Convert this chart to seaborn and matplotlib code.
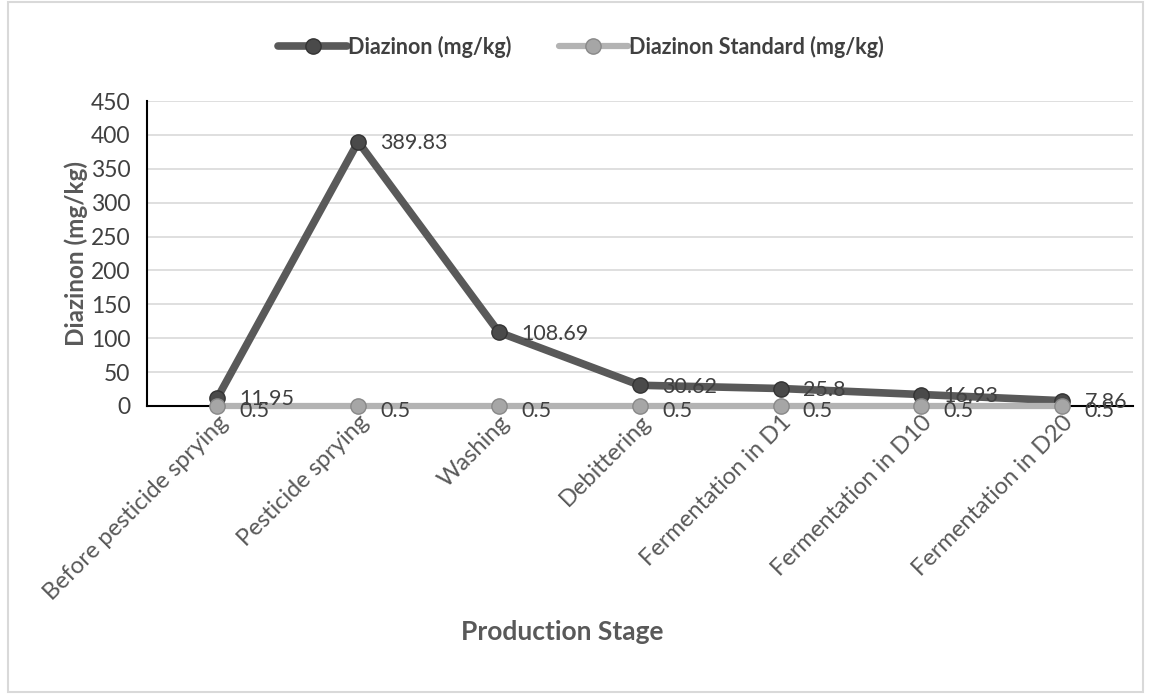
import matplotlib
matplotlib.use("Agg")
import matplotlib.pyplot as plt
import seaborn as sns
import pandas as pd
from matplotlib.patches import Rectangle

stages = ["Before pesticide sprying", "Pesticide sprying", "Washing", "Debittering",
          "Fermentation in D1", "Fermentation in D10", "Fermentation in D20"]
diazinon = [11.95, 389.83, 108.69, 30.62, 25.8, 16.93, 7.86]
standard = [0.5, 0.5, 0.5, 0.5, 0.5, 0.5, 0.5]
diaz_labels = ["11.95", "389.83", "108.69", "30.62", "25.8", "16.93", "7.86"]
std_labels = ["0.5"] * 7
series_names = ["Diazinon (mg/kg)", "Diazinon Standard (mg/kg)"]
yticks = [0, 50, 100, 150, 200, 250, 300, 350, 400, 450]

sns.set_theme(style="white")
plt.rcParams['font.family'] = ['Lato', 'DejaVu Sans']

df = pd.DataFrame({
    "Stage": stages * 2,
    "Value": diazinon + standard,
    "Series": [series_names[0]] * 7 + [series_names[1]] * 7,
})

fig = plt.figure(figsize=(11.51, 7.0), dpi=100)
fig.patches.append(Rectangle((0.007, 0.012), 0.986, 0.985, transform=fig.transFigure,
                             fill=False, edgecolor="#d9d9d9", linewidth=1.5))
ax = fig.add_axes([0.1277, 0.42, 0.8563, 0.4357])

colors = {series_names[0]: "#595959", series_names[1]: "#b3b3b3"}
mface = {series_names[0]: "#4a4a4a", series_names[1]: "#a6a6a6"}
edge = {series_names[0]: "#333333", series_names[1]: "#888888"}
zs = {series_names[0]: 3, series_names[1]: 4}
lws = {series_names[0]: 5.5, series_names[1]: 4.5}
for name in series_names:
    sub = df[df["Series"] == name]
    sns.lineplot(data=sub, x="Stage", y="Value", ax=ax, color=colors[name], lw=lws[name],
                 marker="o", markersize=11, markerfacecolor=mface[name],
                 markeredgecolor=edge[name], markeredgewidth=1.0, sort=False,
                 label=name, zorder=zs[name], clip_on=False)

ax.set_xlim(-0.5, 6.5)
ax.set_ylim(0, 450)
ax.set_yticks(yticks)
ax.yaxis.grid(True, color="#d9d9d9", lw=1.2)
ax.set_axisbelow(True)
for s in ["top", "right"]:
    ax.spines[s].set_visible(False)
for s in ["left", "bottom"]:
    ax.spines[s].set_color("black")
    ax.spines[s].set_linewidth(1.5)
ax.spines["bottom"].set_zorder(3.5)

ax.tick_params(axis="y", labelsize=16.5, labelcolor="#404040", length=0, pad=12)
ax.tick_params(axis="x", labelsize=17, labelcolor="#595959", length=0, pad=4)
ax.set_xticks(range(len(stages)))
ax.set_xticklabels(stages, rotation=45, ha="right", rotation_mode="anchor")

ax.set_ylabel("Diazinon (mg/kg)", fontsize=17.5, fontweight="bold", color="#595959", labelpad=2)
ax.set_xlabel("")
fig.text(562 / 1151, 1 - 632 / 700, "Production Stage", fontsize=19, fontweight="bold",
         color="#595959", ha="center", va="center")

for i, (v, t) in enumerate(zip(diazinon, diaz_labels)):
    ax.annotate(t, (i, v), xytext=(16, -1), textcoords="offset points",
                ha="left", va="center", fontsize=15.5, color="#404040", zorder=5)
for i, (v, t) in enumerate(zip(standard, std_labels)):
    ax.annotate(t, (i, v), xytext=(16, -4), textcoords="offset points",
                ha="left", va="center", fontsize=15.5, color="#404040", zorder=5)

h, l = ax.get_legend_handles_labels()
order = [l.index(series_names[0]), l.index(series_names[1])]
leg = fig.legend([h[k] for k in order], [l[k] for k in order], loc="center",
                 bbox_to_anchor=(581 / 1151, 1 - 47 / 700), ncol=2, frameon=False,
                 prop={"size": 15.5, "weight": "bold"}, handlelength=3.2, columnspacing=2.2,
                 handletextpad=0.05)
for t in leg.get_texts():
    t.set_color("#404040")
if ax.get_legend():
    ax.get_legend().remove()

fig.savefig("out.png", dpi=100, facecolor="white")
